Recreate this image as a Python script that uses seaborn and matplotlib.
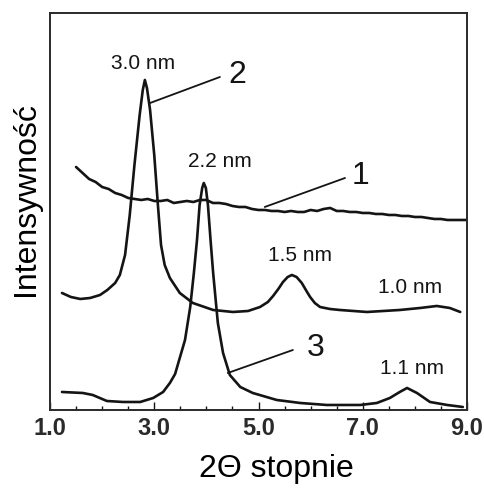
import numpy as np
import pandas as pd
import matplotlib
matplotlib.use("Agg")
import matplotlib.pyplot as plt
from matplotlib.ticker import MultipleLocator
import seaborn as sns

# ── Data (intensity in arbitrary units) ──────────────────────────────────────
x1 = [1.500, 1.625, 1.750, 1.875, 2.000, 2.125, 2.250, 2.375, 2.500, 2.625,
      2.750, 2.875, 3.000, 3.125, 3.250, 3.375, 3.500, 3.625, 3.750, 3.875,
      4.000, 4.125, 4.250, 4.375, 4.500, 4.625, 4.750, 4.875, 5.000, 5.125,
      5.250, 5.375, 5.500, 5.625, 5.750, 5.875, 6.000, 6.125, 6.250, 6.375,
      6.500, 6.625, 6.750, 6.875, 7.000, 7.125, 7.250, 7.375, 7.500, 7.625,
      7.750, 7.875, 8.000, 8.125, 8.250, 8.375, 8.500, 8.625, 8.750, 8.875,
      9.000]
y1 = [243, 237, 231, 228, 223, 221, 217, 215, 212, 211,
      210, 211, 209, 209, 210, 207, 208, 209, 208, 210,
      210, 207, 207, 206, 204, 203, 203, 201, 200, 200,
      199, 199, 198, 199, 198, 198, 200, 199, 201, 202,
      199, 199, 198, 198, 197, 197, 196, 196, 195, 195,
      194, 194, 193, 193, 192, 191, 191, 190, 190, 190,
      190]

x2 = [1.23, 1.40, 1.58, 1.77, 1.96, 2.10, 2.25, 2.34, 2.44, 2.53, 2.62,
      2.72, 2.78, 2.82, 2.86, 2.92, 3.00, 3.07, 3.13, 3.20, 3.30, 3.49,
      3.74, 4.13, 4.51, 4.80, 5.03, 5.18, 5.28, 5.38, 5.47, 5.56, 5.64,
      5.73, 5.83, 5.92, 5.99, 6.08, 6.18, 6.37, 6.56, 7.08, 7.71, 8.10,
      8.42, 8.67, 8.87]
y2 = [117, 113, 111, 112, 115, 120, 127, 135, 155, 195, 245,
      295, 320, 330, 322, 300, 255, 205, 165, 145, 132, 117,
      107, 100, 98, 99, 103, 108, 114, 121, 128, 133, 135,
      133, 127, 119, 113, 107, 103, 101, 100, 98, 100, 102,
      104, 102, 98]

x3 = [1.23, 1.63, 1.82, 2.09, 2.40, 2.73, 2.98, 3.17, 3.30, 3.40, 3.59,
      3.69, 3.76, 3.82, 3.87, 3.92, 3.95, 3.99, 4.03, 4.08, 4.13, 4.22,
      4.32, 4.45, 4.65, 4.89, 5.35, 5.80, 6.31, 6.95, 7.27, 7.52, 7.71,
      7.85, 8.04, 8.29, 8.62, 8.92]
y3 = [18, 17, 15, 9, 8, 8, 12, 18, 27, 36, 70,
      103, 137, 170, 205, 222, 227, 222, 205, 170, 137, 87,
      57, 35, 23, 17, 10, 7, 5, 5, 7, 12, 18,
      22, 17, 8, 5, 3]

curve_names = ["1", "2", "3"]
peak_labels = ["3.0 nm", "2.2 nm", "1.5 nm", "1.0 nm", "1.1 nm"]
x_ticks = [1.0, 3.0, 5.0, 7.0, 9.0]

df = pd.concat([
    pd.DataFrame({"x": x1, "y": y1, "curve": "1"}),
    pd.DataFrame({"x": x2, "y": y2, "curve": "2"}),
    pd.DataFrame({"x": x3, "y": y3, "curve": "3"}),
], ignore_index=True)

# ── Style ─────────────────────────────────────────────────────────────────────
sns.set_theme(style="white")
plt.rcParams["font.family"] = ["Liberation Sans", "DejaVu Sans"]

fig = plt.figure(figsize=(4.84, 4.90), dpi=100)
ax = fig.add_axes([0.1033, 0.1633, 0.8616, 0.8102])

ink = "#141414"
sns.lineplot(data=df, x="x", y="y", hue="curve", estimator=None, sort=False,
             palette={c: ink for c in curve_names}, linewidth=1.9,
             legend=False, ax=ax)
for ln in ax.get_lines():
    ln.set_solid_joinstyle("round")

ax.set_xlim(1.0, 9.0)
ax.set_ylim(0, 397)
ax.set_xticks(x_ticks)
ax.set_xticklabels([f"{t:.1f}" for t in x_ticks], fontsize=17,
                   fontweight="bold", color="#2a2a2a")
ax.xaxis.set_minor_locator(MultipleLocator(0.5))
ax.set_yticks([])
ax.tick_params(axis="x", which="major", direction="in", length=6,
               width=1.0, color=ink, pad=5, bottom=True, top=False)
ax.tick_params(axis="x", which="minor", direction="in", length=3,
               width=1.0, color=ink, bottom=True, top=False)
for sp in ax.spines.values():
    sp.set_color("#2a2a2a")
    sp.set_linewidth(1.4)

ax.set_xlabel("2Θ stopnie", fontsize=23, color="black")
ax.xaxis.set_label_coords(0.544, -0.112)
ax.set_ylabel("Intensywność", fontsize=23, color="black")
ax.yaxis.set_label_coords(-0.022, 0.531)

# ── Peak labels ───────────────────────────────────────────────────────────────
label_pos = [(2.78, 346), (4.26, 248), (5.80, 154), (7.91, 122), (7.95, 41)]
for txt, (lx, ly) in zip(peak_labels, label_pos):
    ax.text(lx, ly, txt, fontsize=15, ha="center", va="center", color=ink)

# ── Curve numbers with leader lines ───────────────────────────────────────────
num_pos = [(6.95, 234), (4.59, 335), (6.10, 62)]
line_from = [(5.12, 203), (2.92, 307), (4.41, 37)]
line_to = [(6.66, 232), (4.26, 333), (5.66, 60)]
for name, (nx, ny), p0, p1 in zip(curve_names, num_pos, line_from, line_to):
    ax.annotate("", xy=p0, xytext=p1,
                arrowprops=dict(arrowstyle="-", color=ink, lw=1.3,
                                shrinkA=0, shrinkB=0))
    ax.text(nx, ny, name, fontsize=23, ha="center", va="center", color=ink)

plt.savefig("out.png", dpi=100)
plt.close()
